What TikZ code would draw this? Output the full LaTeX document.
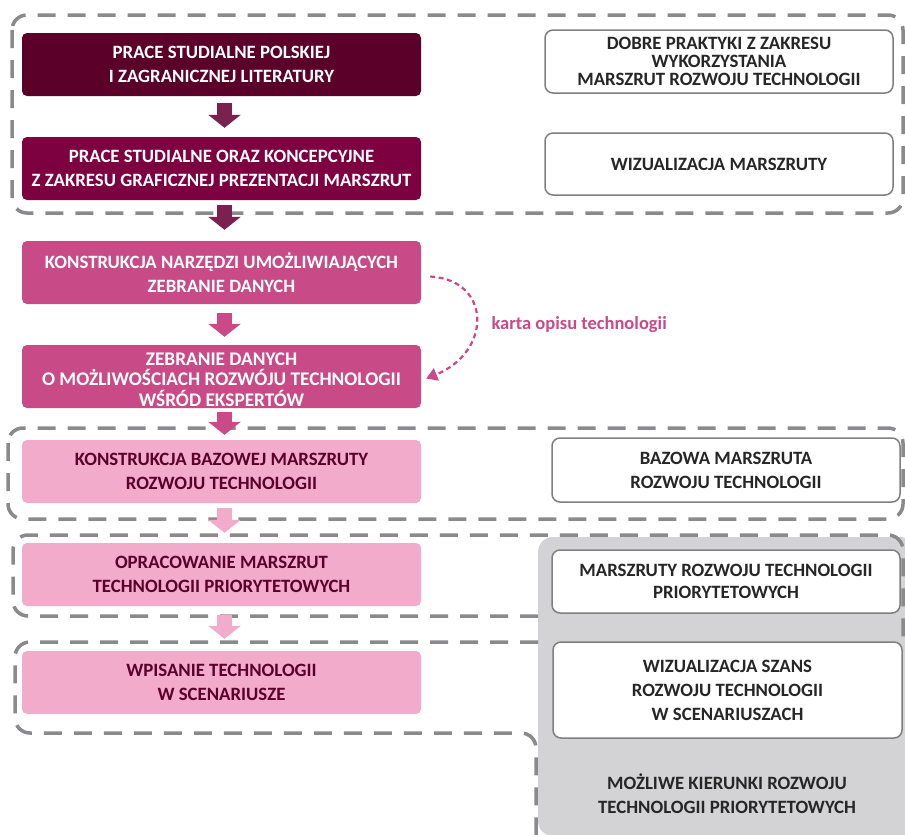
\documentclass[tikz,border=0pt]{standalone}
\usepackage{fontspec}
\setmainfont{Carlito}
\usetikzlibrary{arrows.meta}

\definecolor{wine}{HTML}{5A0029}
\definecolor{plum}{HTML}{7D0041}
\definecolor{plumarrow}{HTML}{7A2150}
\definecolor{rose}{HTML}{C84A86}
\definecolor{blush}{HTML}{F3ABCB}
\definecolor{framegray}{HTML}{8A8A8C}
\definecolor{boxgray}{HTML}{7F7F7F}
\definecolor{panel}{HTML}{D3D3D5}
\definecolor{ink}{HTML}{262626}

\begin{document}
\begin{tikzpicture}[x=1pt,y=-1pt,
  stage/.style={rounded corners=5pt, minimum width=399pt, minimum height=63pt,
    align=center, inner sep=0pt, font=\fontsize{18.8}{24}\selectfont\bfseries},
  result/.style={draw=boxgray, line width=1.5pt, fill=white, rounded corners=8pt,
    minimum width=348pt, align=center, inner sep=0pt, text=ink,
    font=\fontsize{18.8}{24}\selectfont\bfseries},
  group/.style={draw=framegray, line width=3.5pt, dash pattern=on 18pt off 12pt,
    rounded corners=15pt},
  flow/.style={line width=15pt, -{Triangle[width=32pt,length=13pt]}},
  feedback/.style={draw=rose, line width=2.2pt, dash pattern=on 5pt off 3.5pt,
    -{Triangle[width=13pt,length=11pt]}}
]
\useasboundingbox (0,0) rectangle (905,835);

% grey panel with the outcomes of the later stages
\fill[panel, rounded corners=15pt] (538,537) rectangle (915,836);

% dashed frames grouping the stages
\draw[group] (12,15) rectangle (903,213);
\draw[group] (8,428) rectangle (903,519);
\draw[group] (538,616) -- (13,616) -- (13,535) -- (903,535) -- (903,640);
\draw[group] (538,642) -- (15,642) -- (15,733) -- (536,733) -- (536,840);

% stages of the procedure
\node[stage, fill=wine, text=white] (b1) at (221.5,64.5)
  {PRACE STUDIALNE POLSKIEJ\\I ZAGRANICZNEJ LITERATURY};
\node[stage, fill=plum, text=white] (b2) at (221.5,168.5)
  {PRACE STUDIALNE ORAZ KONCEPCYJNE\\Z ZAKRESU GRAFICZNEJ PREZENTACJI MARSZRUT};
\node[stage, fill=rose, text=white] (b3) at (221.5,272.5)
  {KONSTRUKCJA NARZĘDZI UMOŻLIWIAJĄCYCH\\ZEBRANIE DANYCH};
\node[stage, fill=rose, text=white] (b4) at (221.5,376.5) {};
\node[text=white, align=center, inner sep=0pt, font=\fontsize{19.3}{20.5}\selectfont\bfseries] (b4text) at ([yshift=-3pt]b4.center)
  {ZEBRANIE DANYCH\\O MOŻLIWOŚCIACH ROZWÓJU TECHNOLOGII\\WŚRÓD EKSPERTÓW};
\node[stage, fill=blush, text=wine] (b5) at (221.5,471.5)
  {KONSTRUKCJA BAZOWEJ MARSZRUTY\\ROZWOJU TECHNOLOGII};
\node[stage, fill=blush, text=wine] (b6) at (221.5,574.5)
  {OPRACOWANIE MARSZRUT\\TECHNOLOGII PRIORYTETOWYCH};
\node[stage, fill=blush, text=wine] (b7) at (221.5,682.5)
  {WPISANIE TECHNOLOGII\\W SCENARIUSZE};

% outcomes
\node[result, minimum height=63pt, font=\fontsize{18.8}{18}\selectfont\bfseries] (r1) at (719,61.5)
  {DOBRE PRAKTYKI Z ZAKRESU\\WYKORZYSTANIA\\MARSZRUT ROZWOJU TECHNOLOGII};
\node[result, minimum height=62pt] (r2) at (719,164) {WIZUALIZACJA MARSZRUTY};
\node[result, minimum height=64pt] (r3) at (726,470)
  {BAZOWA MARSZRUTA\\ROZWOJU TECHNOLOGII};
\node[result, minimum height=63pt, font=\fontsize{18.8}{22}\selectfont\bfseries] (r4) at (726,581.5)
  {MARSZRUTY ROZWOJU TECHNOLOGII\\PRIORYTETOWYCH};
\node[result, minimum height=96pt, minimum width=349pt] (r5) at (727.5,690)
  {WIZUALIZACJA SZANS\\ROZWOJU TECHNOLOGII\\W SCENARIUSZACH};
\node[align=center, text=ink, font=\fontsize{18.8}{24}\selectfont\bfseries] (r6) at (727,794)
  {MOŻLIWE KIERUNKI ROZWOJU\\TECHNOLOGII PRIORYTETOWYCH};

% block arrows between the stages
\draw[flow, plumarrow] ([xshift=3pt,yshift=-7pt]b1.south) -- ([xshift=3pt,yshift=9pt]b2.north);
\draw[flow, plumarrow] ([xshift=3pt,yshift=-5pt]b2.south) -- ([xshift=3pt,yshift=11pt]b3.north);
\draw[flow, rose] ([xshift=3pt,yshift=-9pt]b3.south) -- ([xshift=3pt,yshift=8pt]b4.north);
\draw[flow, rose] ([xshift=3pt,yshift=-4pt]b4.south) -- ([xshift=3pt,yshift=5pt]b5.north);
\draw[flow, blush] ([xshift=3pt,yshift=-5pt]b5.south) -- ([xshift=3pt,yshift=10pt]b6.north);
\draw[flow, blush] ([xshift=3pt,yshift=-9pt]b6.south) -- ([xshift=3pt,yshift=12pt]b7.north);

% the technology description card feeds the data collection
\draw[feedback] ([xshift=9pt,yshift=-4pt]b3.east) .. controls (492,280) and (492,352) .. ([xshift=5pt,yshift=-2pt]b4.east);
\node[text=rose, font=\fontsize{18.5}{20}\selectfont\bfseries, anchor=west] (card) at (488,325) {karta opisu technologii};
\end{tikzpicture}
\end{document}
